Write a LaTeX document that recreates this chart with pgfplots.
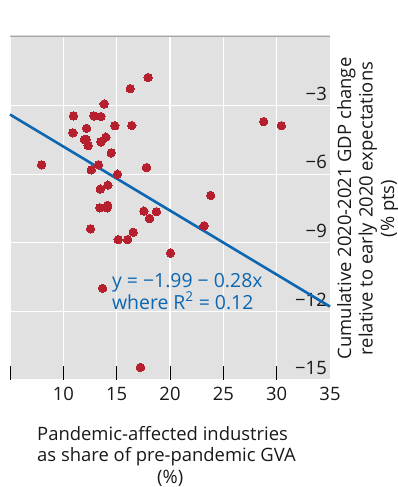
\documentclass[border=0pt]{standalone}
\usepackage{fontspec}
\setmainfont{Open Sans}
\usepackage{pgfplots}
\pgfplotsset{compat=1.18}
\definecolor{bgc}{HTML}{E1E1E1}
\definecolor{dotred}{HTML}{B51F2E}
\definecolor{lineblue}{HTML}{0B67B2}
\newcommand{\fs}{\fontsize{18.5}{21.5}\selectfont}
\begin{document}
\begin{tikzpicture}
\path[use as bounding box] (0,0) rectangle (398bp,487bp);
\begin{axis}[
  name=ax,
  at={(10bp,107bp)}, anchor=south west,
  width=320bp, height=343bp, scale only axis,
  xmin=5, xmax=35, ymin=-15, ymax=0,
  axis background/.style={fill=bgc},
  axis line style={draw=none},
  grid=major,
  major grid style={white, line width=1.1bp},
  xtick={5,10,...,30},
  xticklabels={,10,15,20,25,30},
  extra x ticks={35}, extra x tick labels={35},
  extra x tick style={major tick length=0pt, grid=none},
  tick pos=bottom, xtick align=inside,
  major tick length=14bp,
  x tick style={black, line width=0.9bp},
  ytick={-3,-6,-9,-12,-15},
  yticklabels={−3,−6,−9,−12,−15},
  y tick style={draw=none}, 
  ytick pos=right,
  yticklabel pos=right,
  yticklabel style={anchor=south east, inner sep=2bp, xshift=-1bp, yshift=3bp},
  xticklabel style={yshift=-4bp},
  ticklabel style={font=\fs, text=black!90},
  /pgf/number format/assume math mode=true,
  clip=false,
]
\addplot[lineblue, line width=2.6bp, no marks] coordinates {(5,-3.39) (35,-11.79)};
\addplot[only marks, color=dotred, mark=*, mark size=4.2bp, mark options={fill=dotred, draw=dotred, line width=0pt}] coordinates {
(17.95,-1.77) (16.27,-2.26) (13.83,-2.93) (10.96,-3.45) (12.87,-3.45) (13.52,-3.48)
(14.83,-3.88) (16.42,-3.87) (12.18,-3.99) (10.90,-4.19) (13.99,-4.38) (11.96,-4.49)
(12.15,-4.48) (13.52,-4.59) (12.33,-4.75) (14.49,-5.07) (7.96,-5.59) (13.30,-5.59)
(17.80,-5.71) (12.62,-5.81) (15.08,-6.00) (14.18,-6.48) (13.46,-6.65) (13.43,-7.47)
(14.15,-7.36) (14.12,-7.47) (17.55,-7.61) (18.73,-7.64) (18.08,-7.94) (23.19,-8.26)
(23.82,-6.93) (12.55,-8.39) (16.55,-8.54) (15.14,-8.86) (16.02,-8.86) (20.05,-9.45)
(13.68,-10.99) (17.23,-14.45) (28.78,-3.70) (30.44,-3.88)
};
\node[anchor=base west, inner sep=0, text=lineblue, font=\fontsize{19.5}{22}\selectfont] at (axis cs:14.55,-10.96) {y = −1.99 − 0.28x};
\node[anchor=base west, inner sep=0, text=lineblue, font=\fontsize{19.5}{22}\selectfont] at (axis cs:14.55,-11.91) {where R\textsuperscript{2} = 0.12};
\end{axis}
\draw[gray!70, line width=1bp] (ax.north west) -- (ax.north east);
\draw[gray!30, line width=0.8bp] ([yshift=2bp]ax.north west) -- ([yshift=2bp]ax.north east);
\node[rotate=90, anchor=north, align=center, inner sep=0, font=\fs, text=black!90] at ([xshift=7bp]ax.east) {Cumulative 2020-2021 GDP change\\relative to early 2020 expectations\\(\% pts)};
\node[anchor=north west, align=left, inner sep=0, font=\fs, text=black!90] at (37bp,61bp) {Pandemic-affected industries\\as share of pre-pandemic GVA\\\hspace*{120bp}(\%)};
\end{tikzpicture}
\end{document}
